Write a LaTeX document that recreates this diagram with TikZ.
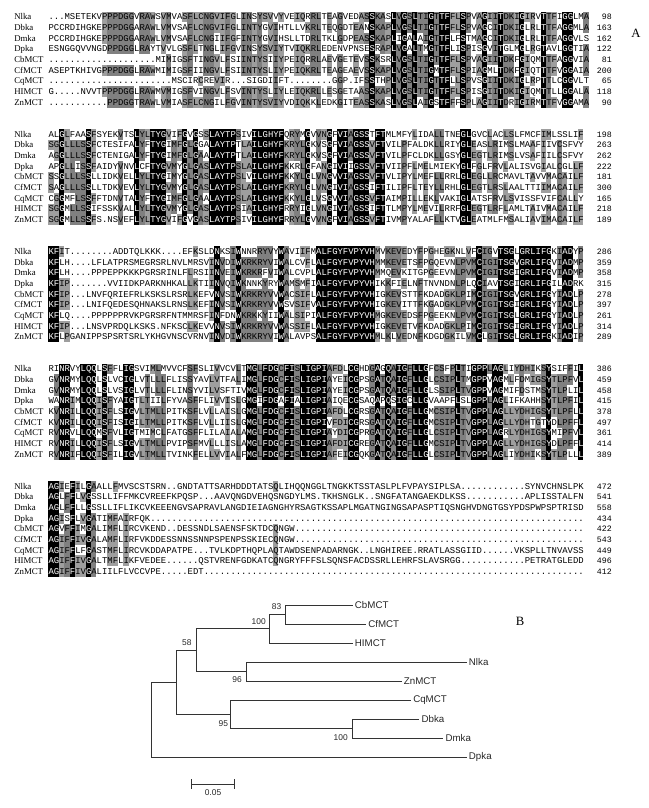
\documentclass[tikz,border=0pt]{standalone}
\usepackage{fontspec}
\setmainfont{Liberation Serif}
\newfontfamily\alnmono{Liberation Mono}
\newfontfamily\treefont{Liberation Sans}
\usetikzlibrary{arrows}
\newcommand\colorIdent{black}
\newcommand\colorHigh{black!50}
\newcommand\colorMid{black!38}
\newcommand\colorTree{black!80}
\def\alnx{48.3}
\def\alnw{5.35}
\def\alnh{10.66}
\newcommand\alncell[3]{\fill[fill=#3] ({\alnx+(#1-1)*\alnw},{#2-\alnh/2}) rectangle ({\alnx+#1*\alnw},{#2+\alnh/2});}
\newcommand\alntext[3]{\node[seqtext] (#1) at (\alnx,{#2+2.9}) {#3};}

\ExplSyntaxOn
\int_new:N \l__aln_k_int
\tl_new:N \l__aln_ch_tl
\tl_new:N \l__aln_cmp_tl
\tl_new:N \l__aln_row_tl
\cs_new:Npn \alngap #1 { \prg_replicate:nn {#1} { . } }
\NewDocumentCommand \alnseq { m m m } { \tl_const:cx { c__aln_#1_#2_tl } {#3} }
\NewDocumentCommand \alnrow { m m m }
  {
    \tl_clear:N \l__aln_row_tl
    \int_step_inline:nn { \str_count:c { c__aln_#1_#2_tl } }
      {
        \tl_set:Nx \l__aln_ch_tl { \str_item:cn { c__aln_#1_#2_tl } {##1} }
        \int_zero:N \l__aln_k_int
        \str_if_eq:VnF \l__aln_ch_tl { . }
          {
            \int_step_inline:nn { 9 }
              {
                \tl_set:Nx \l__aln_cmp_tl { \str_item:cn { c__aln_#1_####1_tl } {##1} }
                \tl_if_eq:NNT \l__aln_ch_tl \l__aln_cmp_tl { \int_incr:N \l__aln_k_int }
              }
          }
        \int_compare:nNnTF \l__aln_k_int = { 9 }
          {
            \alncell {##1} {#3} {\colorIdent}
            \tl_put_right:Nx \l__aln_row_tl { \exp_not:N \textcolor{white}{ \l__aln_ch_tl } }
          }
          {
            \int_compare:nNnTF \l__aln_k_int > { 6 }
              { \alncell {##1} {#3} {\colorHigh} }
              { \int_compare:nNnT \l__aln_k_int > { 4 } { \alncell {##1} {#3} {\colorMid} } }
            \tl_put_right:NV \l__aln_row_tl \l__aln_ch_tl
          }
      }
    \alntext { s#1-#2 } {#3} { \l__aln_row_tl }
  }
\ExplSyntaxOff

\alnseq{1}{1}{\alngap{3}MSETEKVPPPDGGVRAWSVMVASFLCNGVIFGLINSYSVVYVEIQRRLTEAGVEDASSKASLVGSLTIGTTFFLSPVAGIITDKIGIRVTTFIGGLMA}
\alnseq{1}{2}{PCCRDIHGKEPPPDGGARAWLVMVSAFLCNGVIFGLINTYGVIHTLLVKRLTEQGDTEANSKAPLVGSLTIGTTFFLSPVAGCITDKIGLRLTTFAGGMLA}
\alnseq{1}{3}{PCCRDIHGKEPPPDGGARAWLVMVSAFLCNGIIFGFINTYGVIHSLLTDRLTKLGDPEASSKAPLIGALAIGTTFLFSTMAGCITDKIGLRLTTFAGGVLS}
\alnseq{1}{4}{ESNGGQVVNGDPPDGGLRAYTVVLGSFLTNGLIFGVINSYSVIYTVIQKRLEDENVPNSESRAPLVGALTMGTTFLISPISGVITGLMGLRGTAVLGGTIA}
\alnseq{1}{5}{\alngap{20}MIMIGSFTINGVLFSIINTYSIIYPEIQRRLAEVGETEVSSKSRLVGSLTIGTTFFLSPVAGIITDKFGIQMTTFAGGVIA}
\alnseq{1}{6}{ASEPTKHIVGPPPDGGLRAWMIMIGSFIINGVLFSIINTYSLIYPEIQKRLTEAGEAEVSSKAPLVGSLTIGMTFFLSPIAGMLTDKFGIQTTTFVGGAIA}
\alnseq{1}{7}{\alngap{23}MSCIRCREVIR\alngap{3}SIGDIIFT\alngap{8}GGP.IFSSTHPLVGSLTIGTTFLLSPVSGIITDKIGLRPTTLCGGVLT}
\alnseq{1}{8}{G\alngap{5}NVVTPPPDGGLRAWMVMIGSFVINGVLFSVINTYSLIYLEIQKRLLESGETAASSKAPLVGSLTIGTTFFLSPISGIITDKIGIQMTTLLGGALA}
\alnseq{1}{9}{\alngap{11}PPDGGTRAWLVMIASFLCNGILFGVINTYSVIYVDIQKKLEDKGITEASSKASLVGSLAIGSTFFFSPLAGIITDRIGIRMTTFVGGAMA}

\alnseq{2}{1}{ALGLFAASFSYEKVTSLYLTYGVIFGVGSSLAYTPSIVILGHYFQRYMGVVNGFVIAGSSTFTMLMFYLIDALLTNEGLGVCLACLSLFMCFIMLSSLIF}
\alnseq{2}{2}{SGGLLLSSFCTESIFALYFTYGIMFGLGGALAYTPTLAILGHYFKRYLGKVSGFVIAGSSVFTVILPFALDKLLRIYGLEASLRIMSLMAAFIIVCSFVY}
\alnseq{2}{3}{AGGLLLSSFCTENIGALYFTYGIMFGLGAALAYTPTLAILGHYFKRYLGKVSGFVIAGSSVFTVILPFCLDKLLGSYGLEGTLRIMSLVSAFIILCSFVY}
\alnseq{2}{4}{APGLLISSFAIDYVNVLCFTYGVMYGLGASLAYTPSLAILGHYFKKRLGFANGIVIIGSSVFTVIIPFLMELMIEKYGLFGLFRVLALISVGIALCGLLF}
\alnseq{2}{5}{SSGLLLSSLLIDKVELLYLTYGIMYGLGASLAYTPSLVILGHYFKKYLGLVNGVVIAGSSVFTVLIPYLMEFLLRRLGLEGLLRCMAVLTAVVMACAILF}
\alnseq{2}{6}{SAGLLLSSLLTDKVEVLYLTYGVMYGLGASLAYTPSLAILGHYFKRYLGLVNGIVIAGSSIFTILIPFLTEYLLRHLGLEGTLRSLAALTTIIMACAILF}
\alnseq{2}{7}{CGGMFLSSFFTDNVTALYFTYGIMFGLGAALAYTPSLAILGHYFKKYLGLVSGVVIAGSSVFTAIMPILLEKLVAKIGLATSFRVLSVISSFVIFCALLY}
\alnseq{2}{8}{SGGMLLSSIFSSKVALLYLTYGVMYGLGASLAYTPSIAILGHYFRRYIGLVNGIVIAGSSIFTTLMPYLMEVILRRFGLEGTLRFLAMLTAIVMACAILF}
\alnseq{2}{9}{SGGMLLSSFS.NSVEFLYLTYGVIFGVGASLAYTPSIVILGHYFRRYLGVVNGFVIAGSSVFTIVMPYALAFLLKTVGLEATMLFMSALIAVIMACAILF}

\alnseq{3}{1}{KFIT\alngap{8}ADDTQLKKK\alngap{4}EFKSLDNKSIWNNRRYVYWAVIIFMALFGYFVPYVHMVKEVEDYFPGHEGKNLVFCIGVTSGLGRLIFGKIADYP}
\alnseq{3}{2}{KFLH\alngap{4}LFLATPRSMEGRSRLNVLMRSVINVDIWKRKRYVIWALCVFLALFGYFVPYVHMMKEVETSFPGQEVNLPVMCIGITSGVGRLIFGVIADMP}
\alnseq{3}{3}{KFLH\alngap{4}PPPEPPKKKPGRSRINLFLRSIINVEIWKRKRFVIWALCVPLALFGYFVPYVHMMQEVKITGPGEEVNLPVMCIGITSGIGRLIFGVIADMP}
\alnseq{3}{4}{KFIP\alngap{7}VVIIDKPARKNHKALLKTIINVQIWKNNKYRYWAMSMFIALFGYFVPYVHIKKFIELNFTNVNDNLPLQCIAVTSGIGRLIFGILADRK}
\alnseq{3}{5}{KFIP\alngap{3}LNVFQRIEFRLKSKSLRSRLKEFVNVSIWKRKRYVVWACSIFLALFGYFVPYVHIGKEVSTTFKDADGKLPIMCIGITSGVGRLIFGYIADLP}
\alnseq{3}{6}{KFIP\alngap{3}LNIFQEDESQHNAKSLRNSLKEFINVSIWKRKRYVVWSVSIFVALFGYFVPYVHIGKEVITTFKGADGKLPVMCIGITSGIGRLIFGYIADLP}
\alnseq{3}{7}{KFLQ\alngap{4}PPPPPPRVKPGRSRFNTMMRSFINFDNWKRKKYIIWALSIPIALFGYFVPYVHMGKEVEDSFPGEEKNLPVMCIGITSGLGRLIFGYIADLP}
\alnseq{3}{8}{KFIP\alngap{3}LNSVPRDQLKSKS.NFKSCLKEVVNVSIWKRKRYVVWASSIFLALFGYFVPYVHIGKEVETVFKDADGKLPIMCIGITSGIGRLIFGYIADLP}
\alnseq{3}{9}{KFLPGANIPPSPSRTSRLYKHGVNSCVRNVINVDIWKRKRYVIWALAVPSALFGYFVPYVHMLKLVEDNFKDGDGKILVMCLGITSGLGRLIFGKIADIP}

\alnseq{4}{1}{RINRVYLQQLSFFLIGSVIMLMVVCFSFSLIVVCVLTMGLFDGCFISLIGPIAFDLCGHDGAGQAIGFLLGFCSFPLTIGPPLAGLIYDHIKSYSIFFIL}
\alnseq{4}{2}{GVNRMYLQQLSLVCIGLVTLLLFLISSYAVLVTFALIMGLFDGCFISLIGPIAYEICGPSGATQAIGFLLGLCSIPLTMGPPVAGMLFDMIGSYTLPFVL}
\alnseq{4}{3}{GVNRMYLQQLSLVSIGLVTLLLFLINSYVILVSFTIVMGLFDGCFISLIGPIAYEICGPSGATQAIGFLLGLSSIPLTVGPPVAGMIFDSTMSYTLPLIL}
\alnseq{4}{4}{WANRIMLQQISFYAIGTLTIILFYVASFFLIVVISLGMGIFDGAFIALIGPIAIQECGSAQAPQSIGCLLGVAAPFLSLGPPLAGLIFKAHHSYTLPFIL}
\alnseq{4}{5}{KVNRILLQQISFLSIGVLTMLLPITKSFLVLLAISLGMGLFDGCFISLIGPIAFDLCGRSGATQAIGFLLGMCSIPLTVGPPLAGLLYDHIGSYTLPFLL}
\alnseq{4}{6}{KVNRILLQQISFISIGILTMLLPITKSFLVLLIISLGMGLFDGCFISLIGPIVFDICGRSGATQAIGFLLGMCSIPLTVGPPLAGLLYDHTGTYDLPFFL}
\alnseq{4}{7}{RVNRVLLQQMSFVLIGTMIMCLFATGSFFLILAIALAMGLFDGCFISLIGPIAYDICGPRGATQAIGFLLGLCSIPLTVGPPLAGRLYDHIGSYMIPFVL}
\alnseq{4}{8}{RVNRILLQQISFLSIGVLTMLLPVIPSFMVLLLISLAMGLFDGCFISLIGPIAFDICGREGATQAIGFLLGMCSIPLTVGPPLAGLLYDHIGSYDLPFFL}
\alnseq{4}{9}{RVNRIFLQQISFILIGVLTMLLTVINKFELLVVIALFMGLFDGCFISLIGPIAFEICGQKGATQAIGFLLGLCSIPLTVGPPLAGLIYDHIKSYTLPLLL}

\alnseq{5}{1}{AGIEFILGAALLFMVSCSTSRN..GNDTATTSARHDDDTATSQLIHQQNGGLTNGKKTSSTASLPLFVPAYSIPLSA\alngap{12}SYNVCHNSLPK}
\alnseq{5}{2}{AGLFFLVGSSLLIFFMKCVREEFKPQSP...AAVQNGDVEHQSNGDYLMS.TKHSNGLK..SNGFATANGAEKDLKSS\alngap{11}APLISSTALFN}
\alnseq{5}{3}{AGLFFLLGSSLLIFLIKCVKEEENGVSAPRAVLANGDIEIAGNGHYRSAGTKSSAPLMGATNGINGSAPASPTIQSNGHVDNGTGSYPDSPWPSPTRISD}
\alnseq{5}{4}{AGISFLVGATIMFAIRFQK\alngap{81}}
\alnseq{5}{5}{AGVFFIMGALIMFLIRCVKEND..DESSNDLSAENSFSKTDCQNGW\alngap{54}}
\alnseq{5}{6}{AGIFFIVGALAMFLIRFVKDDESSNNSSNNPSPENPSSKIECQNGW\alngap{54}}
\alnseq{5}{7}{AGIFFLFGASTMFLIRCVKDDAPATPE...TVLKDPTHQPLAQTAWDSENPADARNGK..LNGHIREE.RRATLASSGIID......VKSPLLTNVAVSS}
\alnseq{5}{8}{AGIFFIVGALTMFLIKFVEDEE......QSTVRENFGDKATCQNGRYFFFSLSQNSFACDSSRLLEHRFSLAVSRGG\alngap{12}PETRATGLEDD}
\alnseq{5}{9}{AGIFFIVGALIILFLVCCVPE.....EDT\alngap{71}}

\tikzset{
  seqtext/.style={anchor=base west, inner sep=0pt, font=\alnmono\fontsize{6.69}{7}\selectfont},
  alnname/.style={anchor=base west, inner sep=0pt, font=\fontsize{6.6}{8}\selectfont},
  alnnum/.style={anchor=base east, inner sep=0pt, font=\alnmono\fontsize{6.2}{7}\selectfont},
  leaf/.style={anchor=west, inner sep=1.5pt, text=black!85, font=\treefont\fontsize{7.3}{8}\selectfont},
  boot/.style={inner sep=0pt, text=black!85, font=\treefont\fontsize{6.3}{7}\selectfont},
  tree/.style={draw=\colorTree, line width=0.7pt},
  panel/.style={font=\fontsize{9.5}{10}\selectfont}
}

\begin{document}
\begin{tikzpicture}[x=0.75pt,y=-0.75pt]
	\useasboundingbox (0,0) rectangle (649,808);

	\foreach \b/\nums in {1/{98,163,162,122,81,200,65,118,90},2/{198,263,262,222,181,300,165,218,189},3/{286,359,358,315,278,397,261,314,289},4/{386,459,458,415,378,497,361,414,389},5/{472,541,558,434,422,543,449,496,412}}{
		\foreach \num [count=\r] in \nums {
			\pgfmathsetmacro\rowy{17+117.3*(\b-1)+10.66*(\r-1)}
			\alnrow{\b}{\r}{\rowy}
			\node[alnnum] (n\b-\r) at (612,{\rowy+2.9}) {\num};
		}
	}

	\foreach \nm [count=\r] in {Nlka,Dbka,Dmka,Dpka,CbMCT,CfMCT,CqMCT,HIMCT,ZnMCT}{
		\foreach \b in {1,...,5}{
			\node[alnname] (\nm\b) at (14,{17+117.3*(\b-1)+10.66*(\r-1)+2.9}) {\nm};
		}
	}

	\node[panel] (pA) at (636,33) {A};
	\node[panel] (pB) at (520,621) {B};

	\coordinate (R) at (151,719.6);
	\coordinate (A) at (176.3,682.2);
	\coordinate (B) at (196,650.1);
	\coordinate (C) at (269.7,628.8);
	\coordinate (D) at (285.3,614.5);
	\coordinate (E) at (246.7,671.5);
	\coordinate (F) at (230.7,714.3);
	\coordinate (G) at (352.3,728.5);

	\node[leaf] (tCbMCT) at (352.7,605) {CbMCT};
	\node[leaf] (tCfMCT) at (366,624) {CfMCT};
	\node[leaf] (tHIMCT) at (352.7,643) {HIMCT};
	\node[leaf] (tNlka) at (466.7,662) {Nlka};
	\node[leaf] (tZnMCT) at (401.7,681) {ZnMCT};
	\node[leaf] (tCqMCT) at (411,700) {CqMCT};
	\node[leaf] (tDbka) at (419.3,719) {Dbka};
	\node[leaf] (tDmka) at (443.3,738) {Dmka};
	\node[leaf] (tDpka) at (466.7,757) {Dpka};

	\draw[tree] (R) |- (A);
	\draw[tree] (R) |- (tDpka.west);
	\draw[tree] (A) |- (B);
	\draw[tree] (A) |- (F);
	\draw[tree] (B) |- (C);
	\draw[tree] (B) |- (E);
	\draw[tree] (C) |- (D);
	\draw[tree] (C) |- (tHIMCT.west);
	\draw[tree] (D) |- (tCbMCT.west);
	\draw[tree] (D) |- (tCfMCT.west);
	\draw[tree] (E) |- (tNlka.west);
	\draw[tree] (E) |- (tZnMCT.west);
	\draw[tree] (F) |- (tCqMCT.west);
	\draw[tree] (F) |- (G);
	\draw[tree] (G) |- (tDbka.west);
	\draw[tree] (G) |- (tDmka.west);

	\node[boot, anchor=east] (b83) at (281.5,607) {83};
	\node[boot, anchor=east] (b100a) at (266,621.7) {100};
	\node[boot, anchor=east] (b58) at (191.7,642.7) {58};
	\node[boot, anchor=east] (b96) at (242,680) {96};
	\node[boot, anchor=east] (b95) at (228.3,723.3) {95};
	\node[boot, anchor=east] (b100b) at (348,737.7) {100};

	\coordinate (s0) at (190.7,784);
	\coordinate (s1) at (235,784);
	\draw[tree, |-|] (s0) -- (s1);
	\node[boot] (scale) at (213,793) {0.05};
\end{tikzpicture}
\end{document}
